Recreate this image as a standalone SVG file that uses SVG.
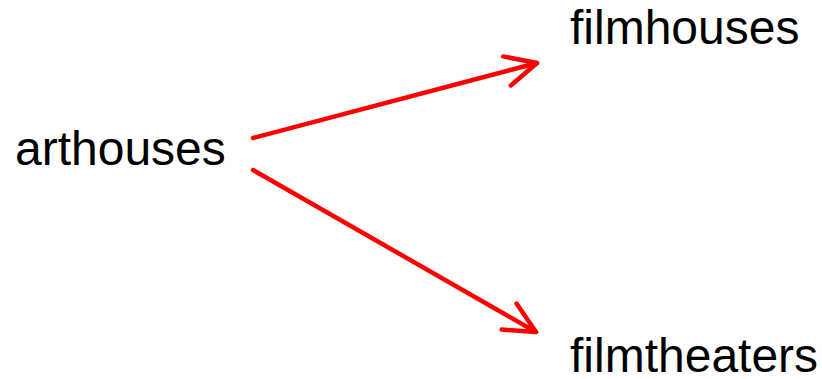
<svg xmlns="http://www.w3.org/2000/svg" width="822" height="379" viewBox="0 0 822 379">
<style>
.lbl{font-family:"Liberation Sans",Arial,sans-serif;font-size:48px;fill:#000}
.edge{stroke:#ff0000;stroke-width:4.5;fill:none;stroke-linecap:round}
</style>
<defs>
<marker id="ah" markerUnits="userSpaceOnUse" markerWidth="60" markerHeight="60" viewBox="-40 -30 60 60" refX="0" refY="0" orient="auto" overflow="visible">
<path d="M-31,-15 L0,0 L-31,15" fill="none" stroke="#ff0000" stroke-width="4.5" stroke-linecap="round" stroke-linejoin="round"/>
</marker>
</defs>
<rect width="822" height="379" fill="#fff"/>
<g id="connectors">
<path class="edge" d="M253,138 L537,63" marker-end="url(#ah)"/>
<path class="edge" d="M253,170 L536,332" marker-end="url(#ah)"/>
</g>
<g id="arthouses"><text class="lbl" x="15" y="165">arthouses</text></g>
<g id="filmhouses"><text class="lbl" x="570" y="44">filmhouses</text></g>
<g id="filmtheaters"><text class="lbl" x="570" y="372">filmtheaters</text></g>
</svg>
